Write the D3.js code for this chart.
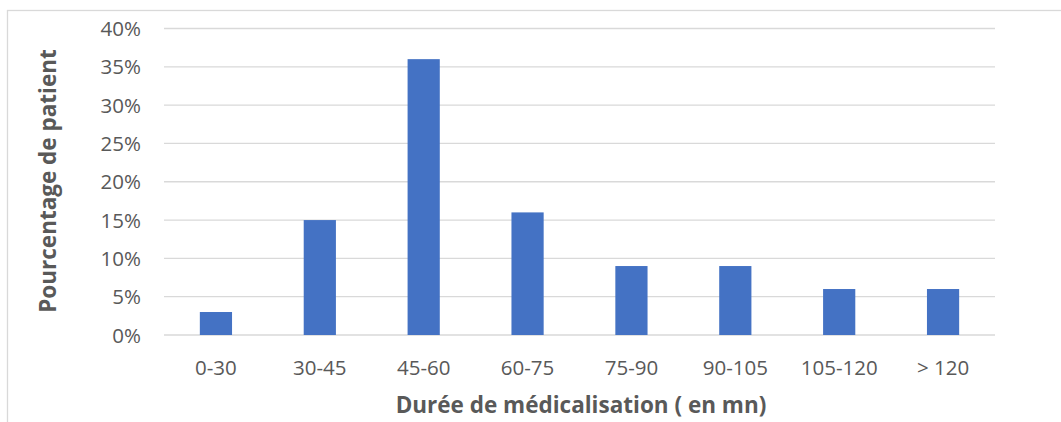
<!DOCTYPE html>
<html>
<head>
<meta charset="utf-8">
<script src="https://cdn.jsdelivr.net/npm/d3@7"></script>
<style>
  body { margin: 0; background: #fff; }
  .grid line { stroke: #d9d9d9; stroke-width: 1.3; }
  .label { font-family: "Open Sans", sans-serif; font-size: 20.5px; fill: #595959; }
  .title { font-family: "Open Sans", sans-serif; font-size: 22.5px; font-weight: bold; fill: #595959; }
</style>
</head>
<body>
<div id="chart"></div>
<script>
var categories = ["0-30", "30-45", "45-60", "60-75", "75-90", "90-105", "105-120", "> 120"];
var values = [0.03, 0.15, 0.36, 0.16, 0.09, 0.09, 0.06, 0.06];
var yTicks = [0, 0.05, 0.10, 0.15, 0.20, 0.25, 0.30, 0.35, 0.40];

var width = 1061, height = 422;
var margin = { left: 164, right: 66, top: 28.5, bottom: 87 };

var svg = d3.select("#chart").append("svg")
    .attr("width", width)
    .attr("height", height);

// chart frame (only left and top edges show in the picture)
svg.append("rect")
    .attr("x", 7.5).attr("y", 10.5)
    .attr("width", 1100).attr("height", 500)
    .attr("fill", "none")
    .attr("stroke", "#d9d9d9")
    .attr("stroke-width", 1.3);

var x = d3.scaleBand()
    .domain(categories)
    .range([margin.left, width - margin.right])
    .paddingInner(0.69)
    .paddingOuter(0.345);

var y = d3.scaleLinear()
    .domain([0, 0.40])
    .range([height - margin.bottom, margin.top]);

// gridlines
svg.append("g")
    .attr("class", "grid")
    .selectAll("line")
    .data(yTicks)
  .enter().append("line")
    .attr("x1", margin.left)
    .attr("x2", width - margin.right)
    .attr("y1", function (d) { return y(d); })
    .attr("y2", function (d) { return y(d); });

// y tick labels
svg.selectAll(".ylabel")
    .data(yTicks)
  .enter().append("text")
    .attr("class", "label")
    .attr("text-anchor", "end")
    .attr("x", 141)
    .attr("y", function (d) { return y(d) + 7.5; })
    .text(function (d) { return d3.format(".0%")(d); });

// bars
svg.selectAll(".bar")
    .data(values)
  .enter().append("rect")
    .attr("class", "bar")
    .attr("x", function (d, i) { return x(categories[i]); })
    .attr("width", x.bandwidth())
    .attr("y", function (d) { return y(d); })
    .attr("height", function (d) { return y(0) - y(d); })
    .attr("fill", "#4472c4");

// x tick labels
svg.selectAll(".xlabel")
    .data(categories)
  .enter().append("text")
    .attr("class", "label")
    .attr("text-anchor", "middle")
    .attr("x", function (d) { return x(d) + x.bandwidth() / 2; })
    .attr("y", 375)
    .text(function (d) { return d; });

// axis titles
svg.append("text")
    .attr("class", "title")
    .attr("text-anchor", "middle")
    .attr("x", 581)
    .attr("y", 413)
    .text("Durée de médicalisation ( en mn)");

svg.append("text")
    .attr("class", "title")
    .attr("text-anchor", "middle")
    .attr("transform", "translate(56,181) rotate(-90)")
    .text("Pourcentage de patient");
</script>
</body>
</html>
